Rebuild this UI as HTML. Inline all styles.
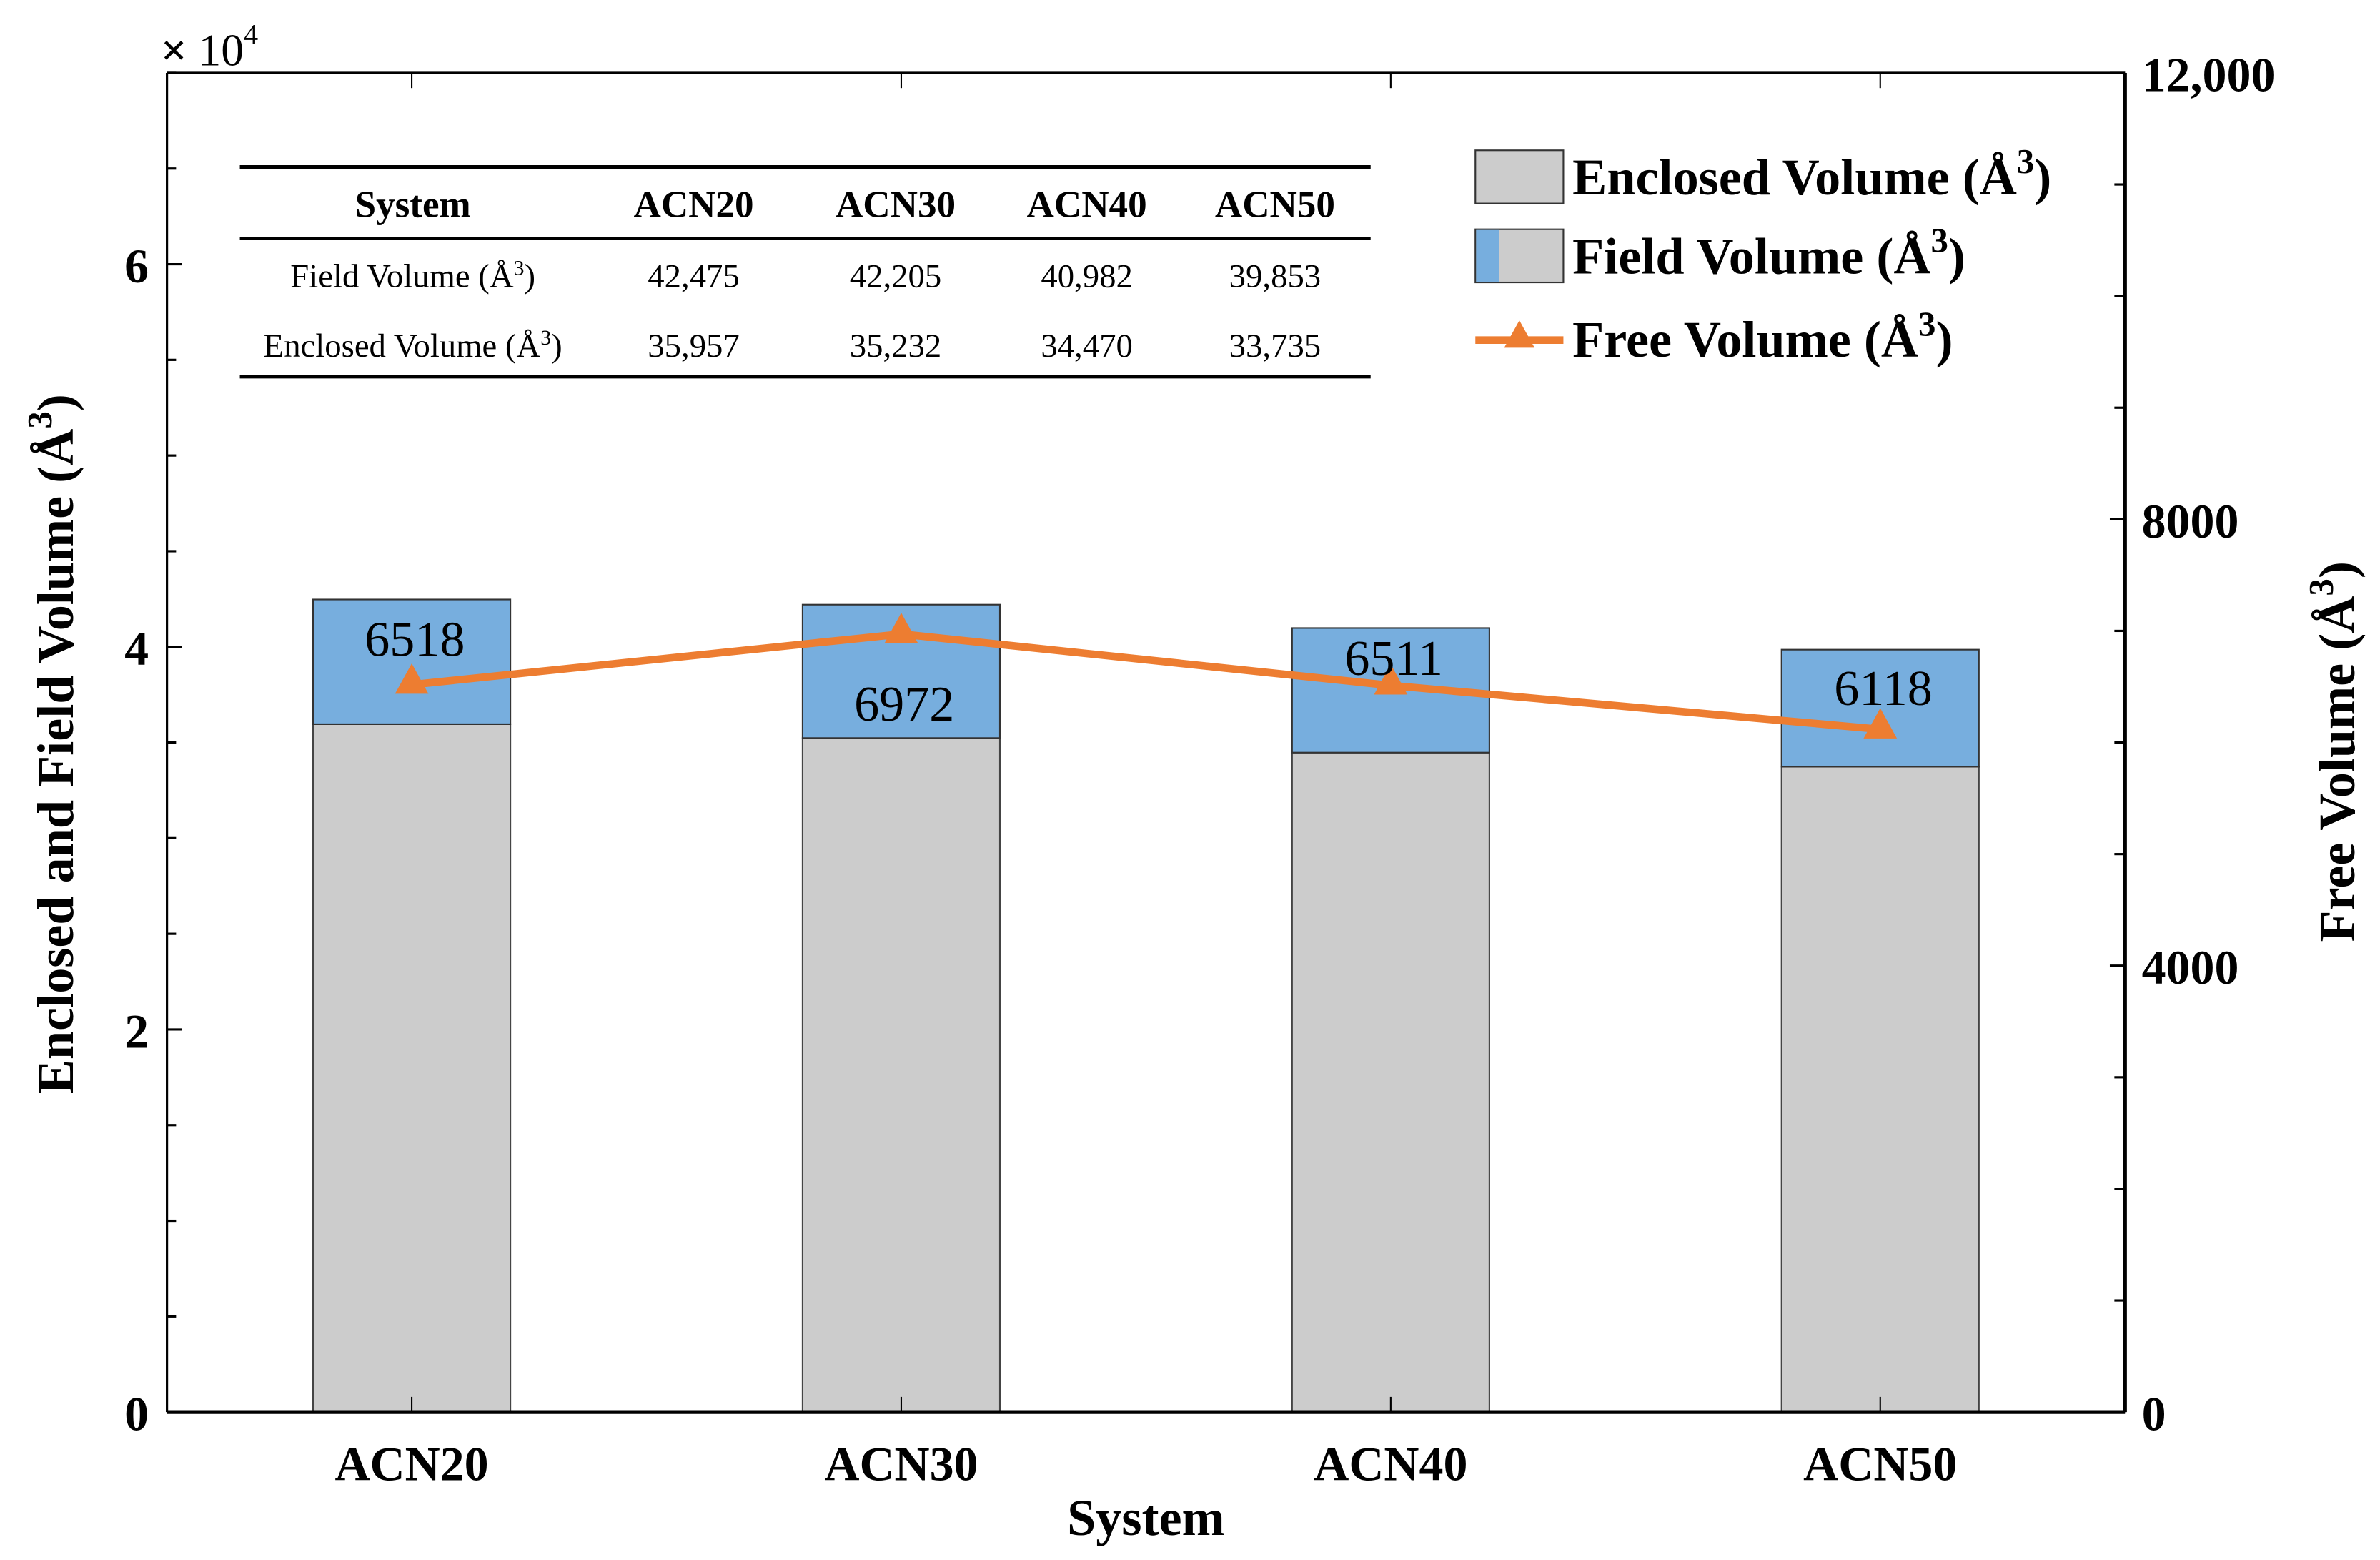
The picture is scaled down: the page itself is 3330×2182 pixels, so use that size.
<!DOCTYPE html>
<html><head><meta charset="utf-8"><style>
html,body{margin:0;padding:0;background:#fff;}
svg{display:block;font-family:"Liberation Serif",serif;}
</style></head><body>
<svg id="chart" width="3330" height="2182" viewBox="0 0 1568 1027.4" preserveAspectRatio="none" xmlns="http://www.w3.org/2000/svg">
<g id="bars"></g>
<g id="line"></g>
<g id="axes"></g>
<text x="106" y="43" font-size="30"><tspan font-weight="bold">×</tspan> 10<tspan dy="-14" font-size="19">4</tspan></text>
<text x="755" y="1011" font-size="34" font-weight="bold" text-anchor="middle">System</text>
<text transform="translate(48,490) rotate(-90)" font-size="34" font-weight="bold" text-anchor="middle">Enclosed and Field Volume (Å<tspan dy="-14" font-size="23">3</tspan><tspan dy="14">)</tspan></text>
<text transform="translate(1551,495) rotate(-90)" font-size="34" font-weight="bold" text-anchor="middle">Free Volume (Å<tspan dy="-14" font-size="23">3</tspan><tspan dy="14">)</tspan></text>
<g font-size="22">
<line x1="158" y1="110" x2="903" y2="110" stroke="#000" stroke-width="2.5"/>
<line x1="158" y1="157" x2="903" y2="157" stroke="#000" stroke-width="1.5"/>
<line x1="158" y1="248" x2="903" y2="248" stroke="#000" stroke-width="2.5"/>
<g font-weight="bold" font-size="25" text-anchor="middle">
<text x="272" y="143">System</text><text x="457" y="143">ACN20</text><text x="590" y="143">ACN30</text><text x="716" y="143">ACN40</text><text x="840" y="143">ACN50</text>
</g>
<g text-anchor="middle">
<text x="272" y="189">Field Volume (Å<tspan dy="-8" font-size="14">3</tspan><tspan dy="8">)</tspan></text>
<text x="457" y="189">42,475</text><text x="590" y="189">42,205</text><text x="716" y="189">40,982</text><text x="840" y="189">39,853</text>
<text x="272" y="235">Enclosed Volume (Å<tspan dy="-8" font-size="14">3</tspan><tspan dy="8">)</tspan></text>
<text x="457" y="235">35,957</text><text x="590" y="235">35,232</text><text x="716" y="235">34,470</text><text x="840" y="235">33,735</text>
</g>
</g>
<g font-size="34" font-weight="bold">
<g><rect x="972" y="99" width="58" height="35" fill="#cccccc" stroke="#333" stroke-width="1"/>
<text x="1036" y="128">Enclosed Volume (Å<tspan dy="-14" font-size="23">3</tspan><tspan dy="14">)</tspan></text></g>
<g><rect x="972" y="151" width="58" height="35" fill="#cccccc" stroke="#333" stroke-width="1"/><rect x="972.5" y="151.5" width="15" height="34" fill="#77aede"/>
<text x="1036" y="180">Field Volume (Å<tspan dy="-14" font-size="23">3</tspan><tspan dy="14">)</tspan></text></g>
<g><line x1="972" y1="224" x2="1030" y2="224" stroke="#ed7d31" stroke-width="5"/><polygon points="1001,211 991,229 1011,229" fill="#ed7d31"/>
<text x="1036" y="235">Free Volume (Å<tspan dy="-14" font-size="23">3</tspan><tspan dy="14">)</tspan></text></g>
</g>
</svg>
<script>
const categories = ["ACN20","ACN30","ACN40","ACN50"];
const enclosedValues = [35957,35232,34470,33735];
const fieldValues = [42475,42205,40982,39853];
const freeValues = [6518,6972,6511,6118];
const freeLabels = ["6518","6972","6511","6118"];
const leftTicks = [0,20000,40000,60000];
const leftTickLabels = ["0","2","4","6"];
const rightTicks = [0,4000,8000,12000];
const rightTickLabels = ["0","4000","8000","12,000"];

const NS="http://www.w3.org/2000/svg";
const L=110,R=1400,T=48,B=930;
const xS=i=>L+(i+0.5)*(R-L)/categories.length;
const yL=v=>B-v/70000*(B-T);
const yR=v=>B-v/12000*(B-T);
function mk(tag,attrs,parent){const e=document.createElementNS(NS,tag);for(const k in attrs)e.setAttribute(k,attrs[k]);parent.appendChild(e);return e;}
const gb=document.getElementById('bars'),gl=document.getElementById('line'),ga=document.getElementById('axes');
const bw=130;
const labelOffsets=[-30,+46,-18,-27];
categories.forEach((c,i)=>{
  const x=xS(i)-bw/2;
  const r1=mk('rect',{x:x,y:yL(enclosedValues[i]),width:bw,height:B-yL(enclosedValues[i]),fill:'#cccccc',stroke:'#444','stroke-width':1},gb);
  
  
  const r2=mk('rect',{x:x,y:yL(fieldValues[i]),width:bw,height:yL(enclosedValues[i])-yL(fieldValues[i]),fill:'#77aede',stroke:'#333','stroke-width':1},gb);
  
  
  const xl=mk('text',{x:xS(i),y:975,'font-size':32,'font-weight':'bold','text-anchor':'middle'},ga);
  xl.textContent=c;
  
  
  mk('line',{x1:xS(i),y1:B,x2:xS(i),y2:B-10,stroke:'#000','stroke-width':1},ga);
  mk('line',{x1:xS(i),y1:T,x2:xS(i),y2:T+10,stroke:'#000','stroke-width':1},ga);
});
let pts=freeValues.map((v,i)=>xS(i)+','+yR(v)).join(' ');
const pl=mk('polyline',{points:pts,fill:'none',stroke:'#ed7d31','stroke-width':5},gl);


freeValues.forEach((v,i)=>{
  const x=xS(i),y=yR(v);
  const m=mk('polygon',{points:`${x},${y-14} ${x-11},${y+6} ${x+11},${y+6}`,fill:'#ed7d31'},gl);
  
  
  const t=mk('text',{x:x+2,y:y+labelOffsets[i]+11,'font-size':33,'text-anchor':'middle'},gl);
  t.textContent=freeLabels[i];
  
  
});
mk('line',{x1:L,y1:T,x2:R,y2:T,stroke:'#000','stroke-width':1.5},ga);
mk('line',{x1:L,y1:B,x2:R,y2:B,stroke:'#000','stroke-width':2.5},ga);
mk('line',{x1:L,y1:T,x2:L,y2:B,stroke:'#000','stroke-width':1.5},ga);
mk('line',{x1:R,y1:T,x2:R,y2:B,stroke:'#000','stroke-width':2.5},ga);
for(let v=0;v<=70000;v+=5000){const y=yL(v);const major=v%20000===0;mk('line',{x1:L,y1:y,x2:L+(major?10:6),y2:y,stroke:'#000','stroke-width':1.5},ga);}
for(let v=0;v<=12000;v+=1000){const y=yR(v);const major=v%4000===0;mk('line',{x1:R,y1:y,x2:R-(major?10:7),y2:y,stroke:'#000','stroke-width':1.5},ga);}
leftTicks.forEach((v,i)=>{const t=mk('text',{x:98,y:yL(v)+12,'font-size':32,'font-weight':'bold','text-anchor':'end'},ga);t.textContent=leftTickLabels[i];
 
 });
rightTicks.forEach((v,i)=>{const t=mk('text',{x:1411,y:yR(v)+12,'font-size':32,'font-weight':'bold'},ga);t.textContent=rightTickLabels[i];
 
 });
</script>
</body></html>
